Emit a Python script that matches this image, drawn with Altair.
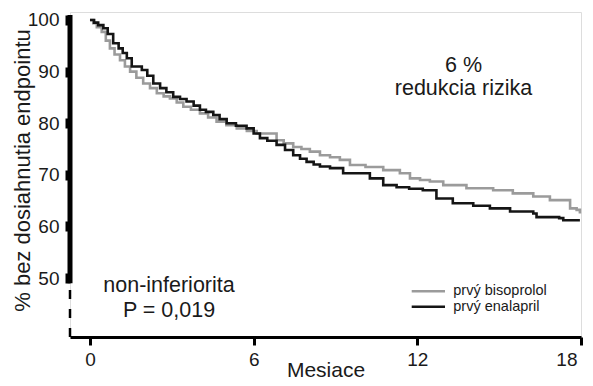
import altair as alt
import pandas as pd

FONT = "Liberation Sans"

series_names = ["prvý bisoprolol", "prvý enalapril"]
series_colors = ["#9b9b9b", "#151515"]

biso_months = [0, 0.12, 0.25, 0.43, 0.58, 0.73, 0.9, 1.1, 1.28, 1.47, 1.7, 1.95, 2.2, 2.45, 2.7,
               2.93, 3.18, 3.42, 3.7, 4.03, 4.33, 4.64, 5.0, 5.38, 5.75, 6.11, 6.84, 7.1, 7.45,
               7.75, 8.06, 8.43, 8.8, 9.16, 9.53, 10.1, 10.75, 11.36, 11.73, 12.1, 12.46, 12.95,
               13.8, 14.78, 15.5, 16.25, 16.86, 17.6, 17.84, 17.96]
biso_values = [100, 99.4, 98.6, 97.7, 96.0, 94.5, 93.3, 92.2, 91.0, 90.0, 88.8, 87.7, 86.8, 85.8,
               85.2, 84.8, 84.0, 83.2, 82.6, 81.9, 81.1, 80.3, 79.6, 79.0, 78.5, 78.0, 76.7, 76.1,
               75.4, 75.0, 74.5, 73.8, 73.4, 72.9, 71.9, 71.5, 70.9, 70.3, 69.3, 69.0, 68.7, 68.0,
               67.4, 67.0, 66.4, 65.8, 65.1, 63.5, 63.2, 62.5]

enal_months = [0, 0.15, 0.3, 0.49, 0.65, 0.85, 1.05, 1.2, 1.35, 1.53, 1.9, 2.1, 2.32, 2.57, 2.8,
               3.05, 3.3, 3.54, 3.8, 4.03, 4.25, 4.52, 4.75, 5.01, 5.35, 5.74, 6.0, 6.23, 6.5,
               6.84, 7.15, 7.45, 7.7, 7.94, 8.2, 8.43, 8.8, 9.28, 9.9, 10.26, 10.75, 11.24, 11.7,
               12.2, 12.7, 13.3, 14.05, 14.66, 15.4, 16.25, 16.37, 17.2, 17.35, 17.96]
enal_values = [100, 99.5, 99.0, 98.4, 97.3, 95.5, 94.5, 93.6, 92.6, 91.0, 90.3, 89.2, 87.7, 86.8,
               86.0, 85.1, 84.7, 84.2, 83.4, 82.6, 82.2, 81.6, 80.8, 80.0, 79.5, 79.0, 78.0, 77.1,
               76.6, 75.8, 74.8, 73.8, 73.1, 72.5, 72.0, 71.6, 71.3, 70.3, 70.3, 69.3, 68.0, 67.6,
               67.3, 67.0, 65.4, 64.5, 64.0, 63.5, 62.9, 62.5, 61.8, 61.6, 61.2, 61.2]

x_ticks = [0, 6, 12, 18]
y_ticks = [50, 60, 70, 80, 90, 100]

note_top = ["6 %", "redukcia rizika"]
note_bottom = ["non-inferiorita", "P = 0,019"]

x_title = "Mesiace"
y_title = "% bez dosiahnutia endpointu"

W, H = 511, 325
x_dom = [-0.733, 18]
y_dom = [38.57, 101.55]

rows = []
for m, v in zip(biso_months, biso_values):
    rows.append({"m": m, "v": v, "s": series_names[0]})
for m, v in zip(enal_months, enal_values):
    rows.append({"m": m, "v": v, "s": series_names[1]})
df = pd.DataFrame(rows)

xs = alt.Scale(domain=x_dom, nice=False, zero=False)
ys = alt.Scale(domain=y_dom, nice=False, zero=False)

lines = alt.Chart(df).mark_line(interpolate="step-after", strokeWidth=2.6).encode(
    x=alt.X("m:Q", scale=xs, title=x_title,
            axis=alt.Axis(values=x_ticks, domainWidth=3, domainColor="black", tickWidth=3,
                          tickSize=8, tickColor="black", labelFontSize=19, labelPadding=5,
                          labelColor="#1a1a1a", labelFont=FONT, titleFont=FONT,
                          titleFontSize=21, titleFontWeight="normal", titleColor="#1a1a1a",
                          titleY=39, titleBaseline="alphabetic", titleAlign="center",
                          grid=False, labelFlush=1, labelFlushOffset=-4)),
    y=alt.Y("v:Q", scale=ys, title=y_title,
            axis=alt.Axis(values=y_ticks, domain=False, tickWidth=10, tickSize=5,
                          tickColor="black", labelFontSize=19, labelPadding=6,
                          labelColor="#1a1a1a", labelFont=FONT, titleFont=FONT,
                          titleFontSize=22, titleFontWeight="normal", titleColor="#1a1a1a",
                          titleX=-48, titleY=158, titleAlign="center", titleBaseline="middle",
                          titleAngle=270, grid=False)),
    color=alt.Color("s:N", scale=alt.Scale(domain=series_names, range=series_colors), legend=None),
    detail="s:N",
)

one = pd.DataFrame({"k": [0]})

axis_bar = alt.Chart(one).mark_rule(color="black", strokeWidth=5).encode(
    x=alt.value(0), y=alt.datum(49.0, scale=ys), y2=alt.datum(100.97)
)
axis_break = alt.Chart(one).mark_rule(color="black", strokeWidth=2.5, strokeDash=[9, 10]).encode(
    x=alt.value(0), y=alt.datum(y_dom[0], scale=ys), y2=alt.datum(49.0)
)

def text_layer(txt, px, py, size, align="center", baseline="alphabetic"):
    return alt.Chart(pd.DataFrame({"t": [txt]})).mark_text(
        font=FONT, fontSize=size, color="#1a1a1a", align=align, baseline=baseline
    ).encode(text="t:N", x=alt.value(px), y=alt.value(py))

notes = [
    text_layer(note_top[0], 393.5, 60, 21.5),
    text_layer(note_top[1], 393.5, 83, 21.5),
    text_layer(note_bottom[0], 99, 279.7, 21.5),
    text_layer(note_bottom[1], 99, 304.7, 21.5),
]

legend_layers = []
for i, (name, col) in enumerate(zip(series_names, series_colors)):
    yy = 279.2 + 15.5 * i
    legend_layers.append(
        alt.Chart(one).mark_rule(color=col, strokeWidth=2.6).encode(
            x=alt.value(341.7), x2=alt.value(375), y=alt.value(yy))
    )
    legend_layers.append(
        alt.Chart(pd.DataFrame({"t": [name]})).mark_text(
            font=FONT, fontSize=14.5, color="#1a1a1a", align="left", baseline="middle"
        ).encode(text="t:N", x=alt.value(383.3), y=alt.value(yy))
    )

chart = alt.layer(lines, axis_bar, axis_break, *notes, *legend_layers).properties(
    width=W, height=H,
    autosize=alt.AutoSizeParams(type="none"),
    padding={"left": 62, "top": 4, "right": 4, "bottom": 44},
).configure_view(stroke=None).configure(background="white")

chart.save("out.html", embed_options={"renderer": "svg", "actions": False})
